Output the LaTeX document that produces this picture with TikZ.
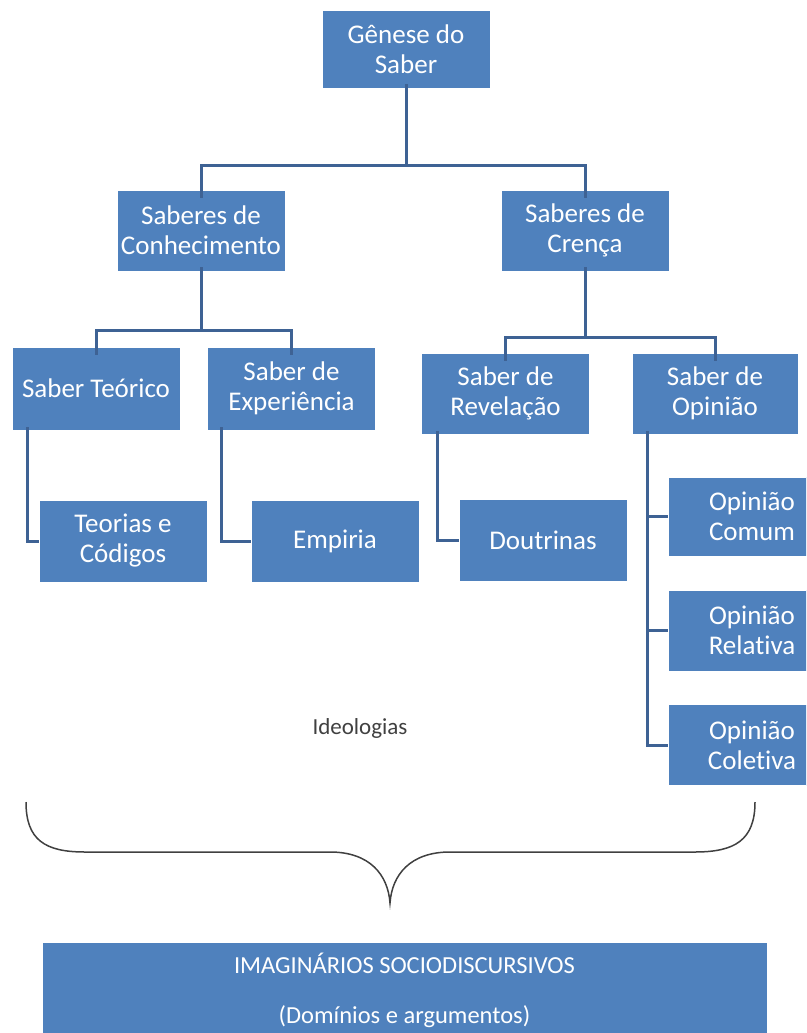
\documentclass[tikz,border=0pt]{standalone}
\usepackage{fontspec}
\setmainfont{Carlito}[Ligatures=NoCommon]
\usetikzlibrary{positioning}
\definecolor{boxblue}{RGB}{79,129,189}
\definecolor{linkblue}{RGB}{62,98,148}
\definecolor{bracegray}{RGB}{64,64,64}
\tikzset{every picture/.style={x=1pt,y=-1pt}}

\begin{document}
\begin{tikzpicture} [font=\fontsize{27}{30}\selectfont]

\tikzstyle{box}=[fill=boxblue,draw=white,line width=0.6pt,text=white,align=center,
  inner sep=0pt,minimum width=168pt,minimum height=82pt]
\tikzstyle{link}=[draw=linkblue,line width=3pt]

  \useasboundingbox (0,0) rectangle (806,1033);
  \clip (0,0) rectangle (806,1033);

  % levels
  \node[box,minimum height=78pt] (genese) at (406,49) {Gênese do\\Saber};
  \node[box,minimum height=81pt] (conhec) at (201,230.5) {Saberes de\\Conhecimento};
  \node[box,minimum height=81pt] (crenca) at (585,230.5) {Saberes de\\Crença};

  \node[box,minimum height=83pt] (teorico) at (96,388.5) {Saber Teórico};
  \node[box,minimum height=83pt] (experiencia) at (291.5,388.5) {Saber de\\Experiência};
  \node[box,minimum height=81pt] (revelacao) at (505.5,393.5) {Saber de\\Revelação};
  \node[box,minimum height=81pt,minimum width=166pt] (opiniao) at (715,393.5) {Saber de\\Opinião};

  \node[box] (codigos) at (123,541) {Teorias e\\Códigos};
  \node[box] (empiria) at (335,541) {Empiria};
  \node[box] (doutrinas) at (543,540.5) {Doutrinas};

  \node[box,minimum height=79pt] (comum) at (752,516.5) {Opinião\\Comum};
  \node[box,minimum height=81pt] (relativa) at (752,630.5) {Opinião\\Relativa};
  \node[box,minimum height=81pt] (coletiva) at (752,745) {Opinião\\Coletiva};

  \node[text=bracegray,font=\fontsize{23}{26}\selectfont] (ideo) at (360,728) {Ideologias};

  \node[box,minimum width=725pt,minimum height=96pt,font=\fontsize{24.5}{50}\selectfont]
    (imag) at (404.5,990) {IMAGINÁRIOS SOCIODISCURSIVOS\\(Domínios e argumentos)};

  % tree links
  \coordinate (j0) at (406,165);
  \coordinate (j1) at (201,330);
  \coordinate (j2) at (585,337);
  \draw[link] ([yshift=4pt]genese.south) -- (j0);
  \draw[link] ([yshift=-8pt]conhec.north) |- (j0) -| ([yshift=-8pt]crenca.north);
  \draw[link] ([yshift=4pt]conhec.south) -- (j1);
  \draw[link] ([yshift=-8pt]teorico.north) |- (j1) -| ([yshift=-8pt]experiencia.north);
  \draw[link] ([yshift=4pt]crenca.south) -- (j2);
  \draw[link] ([yshift=-8pt]revelacao.north) |- (j2) -| ([yshift=-8pt]opiniao.north);

  % elbows
  \draw[link] ([xshift=16pt,yshift=3pt]teorico.south west) |- (codigos.west);
  \draw[link] ([xshift=14.5pt,yshift=3pt]experiencia.south west) |- (empiria.west);
  \draw[link] ([xshift=16pt,yshift=3pt]revelacao.south west) |- (doutrinas.west);
  \draw[link] ([xshift=16pt,yshift=3pt]opiniao.south west) |- (comum.west);
  \draw[link] ([xshift=16pt,yshift=3pt]opiniao.south west) |- (relativa.west);
  \draw[link] ([xshift=16pt,yshift=3pt]opiniao.south west) |- (coletiva.west);

  % brace
  \draw[bracegray,line width=1.5pt] (26,802) .. controls (26,840) and (45,852) .. (85,852)
    -- (330,852) .. controls (370,852) and (388,875) .. (390,903)
    .. controls (392,875) and (410,852) .. (450,852)
    -- (695,852) .. controls (735,852) and (755,840) .. (755,802);
\end{tikzpicture}
\end{document}
